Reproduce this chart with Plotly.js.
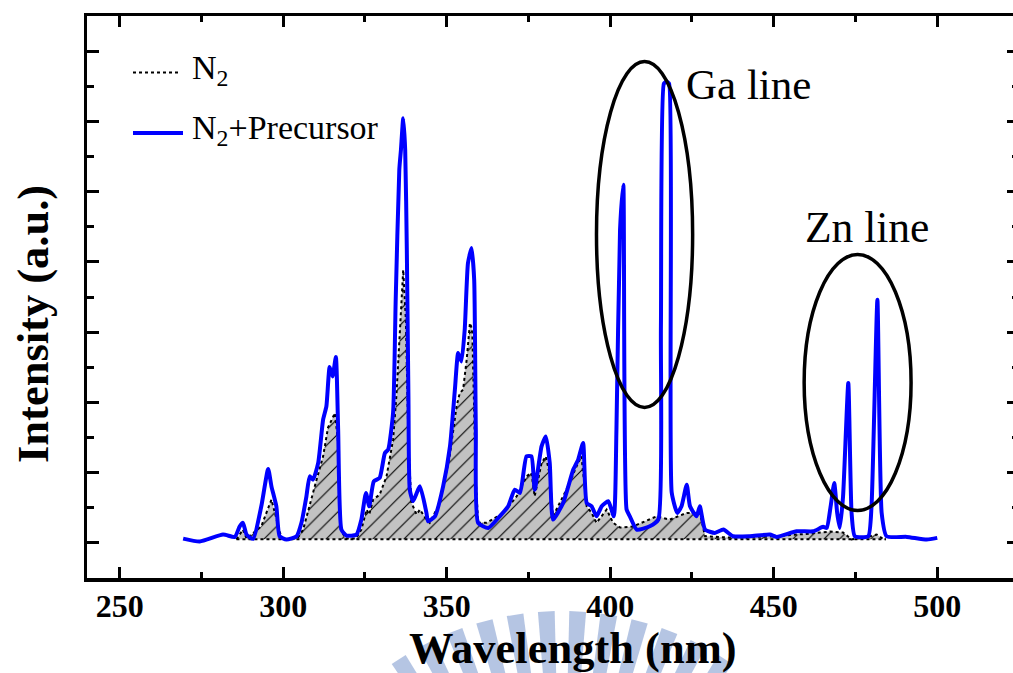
<!DOCTYPE html>
<html>
<head>
<meta charset="utf-8">
<script src="https://cdn.plot.ly/plotly-3.0.1.min.js"></script>
<style>
  html, body { margin: 0; padding: 0; overflow: hidden; background: #fff; }
  #chart { width: 1020px; height: 673px; }
</style>
</head>
<body>
<div id="chart"></div>
<script>
// Emission spectra: N2 plasma alone and N2 plasma with the Ga/Zn precursor
const precursorWavelength = [
  269.4, 274.5, 281.6, 285.2, 286.7, 287.7, 288.8, 290.8, 293.3, 295.4,
  296.4, 297.9, 298.9, 301.0, 304.1, 305.6, 307.1, 308.1, 309.1, 310.7,
  312.2, 313.2, 314.2, 315.1, 316.1, 316.8, 317.8, 319.3, 322.4, 323.9,
  325.3, 326.3, 327.7, 329.5, 331.1, 332.1, 333.6, 334.4, 335.5, 336.0,
  336.7, 337.3, 337.8, 338.3, 338.7, 339.7, 341.8, 343.8, 344.3, 346.4,
  348.9, 351.0, 352.5, 353.5, 354.5, 355.5, 356.5, 357.6, 358.4, 358.9,
  359.6, 362.7, 366.2, 368.8, 370.8, 372.4, 374.4, 375.9, 376.9, 379.0,
  380.3, 381.5, 382.5, 385.6, 388.7, 390.2, 391.7, 392.8, 394.3, 395.8,
  397.4, 399.4, 401.1, 401.9, 403.0, 404.0, 405.0, 406.0, 408.1, 412.1,
  414.7, 415.5, 416.4, 417.2, 418.0, 418.8, 420.5, 421.8, 423.4, 424.4,
  426.4, 427.4, 429.0, 432.0, 434.6, 437.6, 442.7, 448.8, 450.9, 457.0,
  462.1, 465.1, 466.2, 467.4, 468.5, 469.4, 470.2, 471.2, 472.8, 473.8,
  474.8, 478.9, 479.9, 481.7, 483.0, 484.5, 490.7, 496.8, 500.0
];
const precursorIntensity = [
    61,   20,  118,   85,  236,  285,  118,   57,  521, 1053,
   805,  521,   94,   47,   94,  289,  663,  947,  900, 1138,
  1754, 1943, 2504, 2370, 2646, 1612,  189,  104,  118,  331,
   711,  521,  876,  925, 1280, 1327, 1854, 3461, 5311, 5595,
  6046, 5595, 4172, 2038,  758,  592,  805,  427,  307,  378,
   805, 1374, 2181, 2703, 2583, 3034, 3983, 4196, 3745, 1612,
   285,  213,  378,  521,  758,  711, 1232, 1232,  758, 1374,
  1516, 1138,  331,  569, 1043, 1185, 1423,  569,  521,  378,
   521,  592,  378, 1612, 4457, 5097,  474,  378,  189,  236,
   331, 3081, 6537, 6566, 6537,  716,  427,  521,  829,  521,
   378,  521,  189,  142,  189,   94,   94,  118,   85,  165,
   165,  228,  213,  521,  853,  427,  213,  663, 2276,  427,
    94,   94,  521, 3461,  427,   94,   85,   47,   71
];

const n2Wavelength = [
  285.7, 287.7, 288.8, 293.3, 296.4, 298.4, 299.5, 302.0, 304.5, 306.1,
  308.1, 310.2, 312.2, 313.7, 315.8, 316.7, 317.6, 319.1, 322.2, 323.9,
  325.5, 326.3, 327.5, 329.5, 331.6, 333.6, 334.6, 335.7, 336.7, 337.5,
  338.3, 339.2, 340.8, 341.8, 343.8, 344.8, 347.9, 350.9, 353.0, 354.0,
  355.0, 356.1, 357.1, 357.8, 358.9, 359.6, 362.2, 367.3, 371.4, 374.4,
  375.9, 376.9, 379.0, 380.3, 381.5, 382.5, 386.6, 389.7, 391.2, 392.8,
  394.3, 395.8, 398.9, 400.9, 403.0, 406.9, 414.2, 418.2, 423.4, 427.4,
  429.0, 436.6, 448.8, 461.1, 467.2, 471.2, 473.8, 477.9, 481.5, 483.4,
  484.3
];
const n2Intensity = [
    50,  189,   61,  236,  616,  236,   61,   50,   75,  189,
   545,  900, 1232, 1640, 1849, 1469,  189,   61,   61,  189,
   474,  403,  616,  687,  947, 1469, 2085, 3034, 3888, 3177,
  1400,  573,  403,  474,  331,  285,  569, 1232, 1943, 2134,
  2181, 2607, 3130, 3034,  900,  289,  285,  427,  663,  947,
   996,  663, 1138, 1232,  972,  378,  758, 1090, 1232,  521,
   427,  285,  474,  285,  218,  232,  378,  331,  427,  427,
    94,   75,   90,  132,  161,  147,   50,   75,  118,   57,
    50
];
// level the hatched N2 area is filled down to
const n2BaselineWavelength = [285.7, 484.3];
const n2BaselineIntensity = [50, 50];

const xTickValues = [250, 300, 350, 400, 450, 500];
const xTickLabels = ['250', '300', '350', '400', '450', '500'];

const seriesNames = ['N<sub>2</sub>', 'N<sub>2</sub>+Precursor'];

// frame of the plotting area in page pixels
const L = 87, T = 16, PW = 932, PH = 562;
const px = X => (X - L) / PW;
const py = Y => (T + PH - Y) / PH;

const SERIF = "'Liberation Serif', 'Times New Roman', Times, serif";
const BLUE = '#0000ff';

const traces = [
  {
    x: n2BaselineWavelength, y: n2BaselineIntensity,
    mode: 'lines', line: {color: '#000', width: 2, dash: 'dot'},
    hoverinfo: 'skip', showlegend: false
  },
  {
    x: n2Wavelength, y: n2Intensity, name: 'N2',
    mode: 'lines', line: {color: '#000', width: 2, dash: 'dot'},
    fill: 'tonexty', fillcolor: '#c2c2c2',
    fillpattern: {shape: '/', bgcolor: '#c2c2c2', fgcolor: '#000', size: 11, solidity: 0.1},
    showlegend: false
  },
  {
    x: precursorWavelength, y: precursorIntensity, name: 'N2+Precursor',
    mode: 'lines', line: {color: BLUE, width: 4, shape: 'spline', smoothing: 0.5},
    showlegend: false
  }
];

// faint emblem printed behind the lower part of the page
const emblemColor = 'rgba(150,172,215,0.7)';
const emblemCx = 562, emblemCy = 911;
const emblemAngles = [-33, -27, -21, -15, -9, -3, 3, 9, 15, 21, 27, 33];
const shapes = [];
emblemAngles.forEach(a => {
  const half = 1.6, r0 = 215, r1 = 300;
  const pt = (ang, r) => {
    const t = ang * Math.PI / 180;
    return [px(emblemCx + r * Math.sin(t)), py(emblemCy - r * Math.cos(t))];
  };
  const p = [pt(a - half, r0), pt(a - half, r1), pt(a + half, r1), pt(a + half, r0)];
  shapes.push({
    type: 'path', xref: 'paper', yref: 'paper', layer: 'below',
    path: 'M' + p.map(q => q[0].toFixed(4) + ',' + q[1].toFixed(4)).join(' L') + ' Z',
    fillcolor: emblemColor, line: {width: 0}
  });
});

// ellipses marking the Ga and Zn emission lines
shapes.push({type: 'circle', xref: 'x', yref: 'y', x0: 395.8, x1: 425.2, y0: 1927, y1: 6852,
             line: {color: '#000', width: 3.5}});
shapes.push({type: 'circle', xref: 'x', yref: 'y', x0: 459.3, x1: 492.0, y0: 461, y1: 4105,
             line: {color: '#000', width: 3.5}});

// legend line samples
shapes.push({type: 'line', xref: 'paper', yref: 'paper', x0: px(133), x1: px(180), y0: py(72.5), y1: py(72.5),
             line: {color: '#000', width: 2, dash: 'dot'}});
shapes.push({type: 'line', xref: 'paper', yref: 'paper', x0: px(133), x1: px(183), y0: py(133), y1: py(133),
             line: {color: BLUE, width: 4}});

const ann = (text, X, Y, size, opts) => Object.assign({
  text, xref: 'paper', yref: 'paper', x: px(X), y: py(Y),
  showarrow: false, xanchor: 'left', yanchor: 'middle',
  font: {family: SERIF, size, color: '#000'}
}, opts || {});

const annotations = [
  ann(seriesNames[0], 190, 70, 34),
  ann(seriesNames[1], 190, 130, 34),
  ann('Ga line', 684, 84, 43),
  ann('Zn line', 803, 226.5, 43.5),
  ann('Wavelength (nm)', 573, 648, 44.5, {xanchor: 'center',
      font: {family: SERIF, size: 44.5, color: '#000', weight: 'bold'}}),
  ann('Intensity (a.u.)', 33, 324, 44.5, {xanchor: 'center', textangle: -90,
      font: {family: SERIF, size: 44.5, color: '#000', weight: 'bold'}})
];

const axisCommon = {
  showline: true, linecolor: '#000', linewidth: 3.5, mirror: 'allticks',
  ticks: 'inside', tickcolor: '#000', tickwidth: 3,
  showgrid: false, zeroline: false
};

const layout = {
  width: 1020, height: 673,
  margin: {l: L, r: 1020 - L - PW, t: T, b: 673 - T - PH},
  paper_bgcolor: '#fff', plot_bgcolor: 'rgba(0,0,0,0)',
  showlegend: false,
  xaxis: Object.assign({}, axisCommon, {
    range: [240, 525], tickmode: 'array', tickvals: xTickValues, ticktext: xTickLabels,
    ticklen: 11, ticklabelstandoff: -3,
    minor: {dtick: 25, tick0: 250, ticks: 'inside', ticklen: 6, tickwidth: 3, tickcolor: '#000'},
    tickfont: {family: SERIF, size: 32, color: '#000', weight: 'bold'}
  }),
  yaxis: Object.assign({}, axisCommon, {
    range: [-500, 7500], tickmode: 'linear', tick0: 0, dtick: 1000,
    ticklen: 12, showticklabels: false,
    minor: {dtick: 500, tick0: 0, ticks: 'inside', ticklen: 7, tickwidth: 3, tickcolor: '#000'}
  }),
  shapes, annotations
};

Plotly.newPlot('chart', traces, layout, {staticPlot: true, displayModeBar: false});
</script>
</body>
</html>
